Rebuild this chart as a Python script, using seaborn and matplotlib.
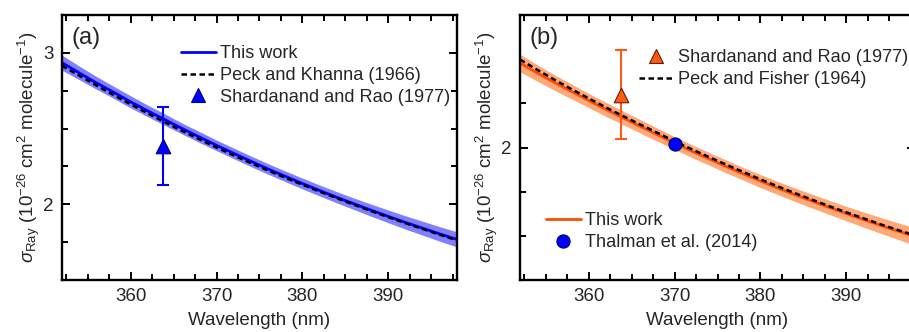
import numpy as np
import pandas as pd
import matplotlib
matplotlib.use("Agg")
import matplotlib.pyplot as plt
import seaborn as sns
from matplotlib.ticker import MultipleLocator
from matplotlib.lines import Line2D

sns.set_style("ticks")
plt.rcParams["font.family"] = ["Liberation Sans", "DejaVu Sans"]
plt.rcParams["mathtext.fontset"] = "custom"
plt.rcParams["mathtext.rm"] = "Liberation Sans"
plt.rcParams["mathtext.it"] = "Liberation Sans:italic"

# ---------------------------------------------------------
# data
# ---------------------------------------------------------
wavelength = [352, 354, 356, 358, 360, 362, 364, 366, 368, 370, 372, 374,
              376, 378, 380, 382, 384, 386, 388, 390, 392, 394, 396, 398]

# panel (a)
a_this_work = [2.935, 2.868, 2.802, 2.740, 2.676, 2.616, 2.558, 2.500, 2.444, 2.389,
               2.336, 2.284, 2.233, 2.185, 2.137, 2.091, 2.046, 2.003, 1.961, 1.920,
               1.880, 1.842, 1.804, 1.768]
a_band = [0.050, 0.045, 0.042, 0.040, 0.040, 0.038, 0.038, 0.036, 0.036, 0.035,
          0.035, 0.035, 0.035, 0.035, 0.036, 0.036, 0.037, 0.038, 0.040, 0.042,
          0.044, 0.046, 0.048, 0.050]
a_peck_khanna = [2.915, 2.850, 2.785, 2.722, 2.660, 2.600, 2.541, 2.484, 2.429, 2.375,
                 2.323, 2.272, 2.223, 2.175, 2.129, 2.084, 2.040, 1.997, 1.955, 1.915,
                 1.875, 1.837, 1.799, 1.762]
a_sr = (363.8, 2.385, 0.26)

# panel (b)
b_this_work = [2.478, 2.422, 2.368, 2.317, 2.266, 2.216, 2.168, 2.120, 2.072, 2.025,
               1.980, 1.936, 1.893, 1.851, 1.810, 1.771, 1.733, 1.697, 1.661, 1.626,
               1.592, 1.559, 1.527, 1.496]
b_band = [0.050, 0.046, 0.044, 0.042, 0.040, 0.040, 0.038, 0.038, 0.037, 0.036,
          0.036, 0.036, 0.036, 0.036, 0.037, 0.037, 0.038, 0.039, 0.040, 0.041,
          0.043, 0.045, 0.047, 0.050]
b_peck_fisher = [2.498, 2.440, 2.384, 2.330, 2.278, 2.227, 2.178, 2.130, 2.083, 2.035,
                 1.990, 1.946, 1.903, 1.861, 1.820, 1.780, 1.742, 1.705, 1.668, 1.633,
                 1.599, 1.565, 1.533, 1.502]
b_sr = (363.8, 2.300, 0.252)
thalman = (370.0, 2.017, 0.012)

BLUE = "#0000ff"
BLUE_BAND = "#8080ff"
ORANGE = "#ff4c00"
ORANGE_BAND = "#ffa878"
TRI_ORANGE = "#ff5a14"

df_a = pd.DataFrame({"wl": wavelength, "this": a_this_work, "band": a_band, "ref": a_peck_khanna})
df_b = pd.DataFrame({"wl": wavelength, "this": b_this_work, "band": b_band, "ref": b_peck_fisher})

FS = 13.5
LEG_FS = 13.1
DASH = (0, (2.2, 1.4))

fig = plt.figure(figsize=(9.09, 3.32), dpi=100)
ax_a = fig.add_axes([62 / 909, 52 / 332, 395 / 909, 265 / 332])
ax_b = fig.add_axes([520 / 909, 52 / 332, 395 / 909, 265 / 332])


def style_axis(ax, ylim):
    ax.set_xlim(352, 398)
    ax.set_ylim(*ylim)
    ax.xaxis.set_major_locator(MultipleLocator(10))
    ax.xaxis.set_minor_locator(MultipleLocator(2.5))
    ax.yaxis.set_major_locator(MultipleLocator(1))
    ax.yaxis.set_minor_locator(MultipleLocator(0.25))
    ax.tick_params(which="both", direction="in", top=True, right=True,
                   width=1.4, labelsize=FS, pad=6, color="black")
    ax.tick_params(which="major", length=6)
    ax.tick_params(which="minor", length=4)
    for sp in ax.spines.values():
        sp.set_linewidth(1.7)
        sp.set_color("black")
    ax.set_xlabel("Wavelength (nm)", fontsize=FS, labelpad=5)
    ax.set_ylabel(r"$\sigma_{\mathrm{Ray}}$ (10$^{-26}$ cm$^{2}$ molecule$^{-1}$)",
                  fontsize=FS, labelpad=1)


def draw_series(ax, df, line_color, band_color):
    ax.fill_between(df["wl"], df["this"] - df["band"], df["this"] + df["band"],
                    color=band_color, linewidth=0, zorder=1)
    sns.lineplot(data=df, x="wl", y="this", color=line_color, linewidth=2,
                 ax=ax, zorder=2, legend=False)
    sns.lineplot(data=df, x="wl", y="ref", color="black", linewidth=1.8,
                 linestyle=DASH, ax=ax, zorder=3, legend=False)


legend_kw = dict(loc="upper left", frameon=False, fontsize=LEG_FS, borderpad=0,
                 borderaxespad=0, handlelength=1.95, handletextpad=0.22,
                 labelspacing=0.25)

# ---------------- panel (a) ----------------
draw_series(ax_a, df_a, BLUE, BLUE_BAND)
ax_a.errorbar([a_sr[0]], [a_sr[1]], yerr=[a_sr[2]], fmt="none", ecolor=BLUE,
              elinewidth=1.5, capsize=4, capthick=1.5, zorder=4)
sns.scatterplot(x=[a_sr[0]], y=[a_sr[1]], marker="^", s=110, color=BLUE,
                edgecolor="#00007a", linewidth=0.8, ax=ax_a, zorder=5, legend=False)
style_axis(ax_a, (1.5, 3.25))
ax_a.text(0.025, 0.915, "(a)", transform=ax_a.transAxes, fontsize=17, va="center", ha="left")

handles_a = [
    Line2D([], [], color=BLUE, linewidth=2),
    Line2D([], [], color="black", linewidth=1.8, linestyle=DASH),
    Line2D([], [], color=BLUE, marker="^", markersize=10, linestyle="none",
           markeredgecolor="#00007a", markeredgewidth=0.8),
]
ax_a.legend(handles_a, ["This work", "Peck and Khanna (1966)", "Shardanand and Rao (1977)"],
            bbox_to_anchor=(0.30, 0.885), **legend_kw)

# ---------------- panel (b) ----------------
draw_series(ax_b, df_b, ORANGE, ORANGE_BAND)
ax_b.errorbar([b_sr[0]], [b_sr[1]], yerr=[b_sr[2]], fmt="none", ecolor=TRI_ORANGE,
              elinewidth=1.5, capsize=4, capthick=1.5, zorder=4)
sns.scatterplot(x=[b_sr[0]], y=[b_sr[1]], marker="^", s=110, color=TRI_ORANGE,
                edgecolor="#5a2000", linewidth=0.8, ax=ax_b, zorder=5, legend=False)
ax_b.errorbar([thalman[0]], [thalman[1]], yerr=[thalman[2]], fmt="none", ecolor=BLUE,
              elinewidth=1.5, capsize=4, capthick=1.5, zorder=4)
sns.scatterplot(x=[thalman[0]], y=[thalman[1]], marker="o", s=90, color=BLUE,
                edgecolor="#00005a", linewidth=0.8, ax=ax_b, zorder=5, legend=False)
style_axis(ax_b, (1.25, 2.75))
ax_b.text(0.025, 0.915, "(b)", transform=ax_b.transAxes, fontsize=17, va="center", ha="left")

handles_b1 = [
    Line2D([], [], color=TRI_ORANGE, marker="^", markersize=10, linestyle="none",
           markeredgecolor="#5a2000", markeredgewidth=0.8),
    Line2D([], [], color="black", linewidth=1.8, linestyle=DASH),
]
leg_b1 = ax_b.legend(handles_b1, ["Shardanand and Rao (1977)", "Peck and Fisher (1964)"],
                     bbox_to_anchor=(0.300, 0.87), **legend_kw)
ax_b.add_artist(leg_b1)

handles_b2 = [
    Line2D([], [], color=ORANGE, linewidth=2),
    Line2D([], [], color=BLUE, marker="o", markersize=9.5, linestyle="none",
           markeredgecolor="#00005a", markeredgewidth=0.8),
]
ax_b.legend(handles_b2, ["This work", "Thalman et al. (2014)"],
            bbox_to_anchor=(0.065, 0.255), **legend_kw)

fig.savefig("out.png", dpi=100)
